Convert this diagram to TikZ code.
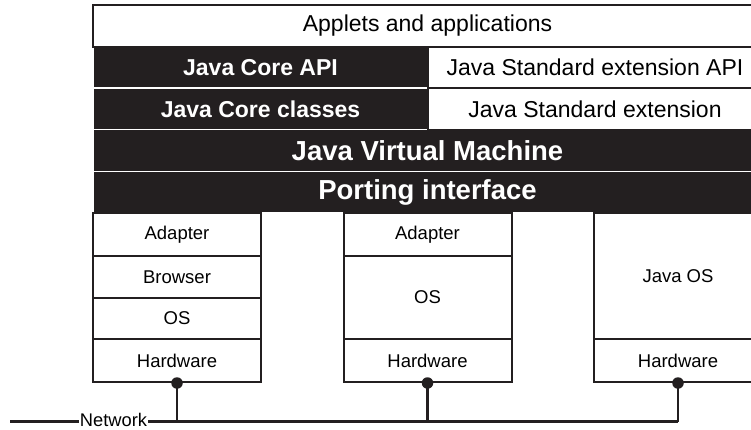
\documentclass[tikz,border=0pt]{standalone}
\usepackage{fontspec}
\setmainfont{Liberation Sans}
\usepackage{tikz}
\usetikzlibrary{positioning}

\definecolor{negro}{RGB}{35,31,32}

\tikzset{
  caja/.style={draw=negro, line width=2pt, fill=white, inner sep=0pt,
    font=\fontsize{23}{26}\selectfont},
  cajanegra/.style={fill=negro, draw=white, line width=1.2pt, text=white,
    inner sep=0pt, font=\fontsize{23}{26}\selectfont\bfseries},
  capa/.style={cajanegra, minimum width=669, minimum height=41.5,
    font=\fontsize{27.5}{30}\selectfont\bfseries},
  pila/.style={caja, minimum width=168, font=\fontsize{18.5}{21}\selectfont},
  punto/.style={circle, fill=negro, inner sep=0pt, minimum size=11.5pt},
  linea/.style={draw=negro, line width=2.2pt}
}

\begin{document}
\begin{tikzpicture}[x=1pt,y=-1pt]
  \useasboundingbox (0,0) rectangle (751,429);
  \clip (0,0) rectangle (751,429);

  % Capas oscuras
  \node[cajanegra, minimum width=335, minimum height=41] (coreapi) at (260.5,67.5) {Java Core API};
  \node[cajanegra, minimum width=335, minimum height=42] (coreclasses) at (260.5,109) {Java Core classes};
  \node[capa] (jvm) at (427.5,150.5) {Java Virtual Machine};
  \node[capa] (porting) at (427.5,192) {Porting interface};

  % Capas claras
  \node[caja, minimum width=669, minimum height=42] (app) at (427.5,26) {Applets and applications};
  \node[caja, minimum width=334, minimum height=41] (stdapi) at (595,67.5) {Java Standard extension API};
  \node[caja, minimum width=334, minimum height=42] (stdext) at (595,109) {Java Standard extension};

  % Columna 1
  \node[pila, minimum height=43] (adap1) at (177,234.5) {Adapter};
  \node[pila, minimum height=42] (browser1) at (177,277) {Browser};
  \node[pila, minimum height=41] (os1) at (177,318.5) {OS};
  \node[pila, minimum height=43] (hw1) at (177,360.5) {Hardware};

  % Columna 2
  \node[pila, minimum height=43] (adap2) at (427.5,234.5) {Adapter};
  \node[pila, minimum height=83] (os2) at (427.5,297.5) {OS};
  \node[pila, minimum height=43] (hw2) at (427.5,360.5) {Hardware};

  % Columna 3
  \node[pila, minimum height=126] (javaos3) at (678,276) {Java OS};
  \node[pila, minimum height=43] (hw3) at (678,360.5) {Hardware};

  % Red
  \coordinate (ini) at (10,421.5);
  \node[inner xsep=1pt, inner ysep=0pt, font=\fontsize{18.3}{20}\selectfont] (net) at (113.5,419.5) {Network};
  \coordinate (b1) at (hw1.south |- ini);
  \coordinate (b2) at (hw2.south |- ini);
  \coordinate (b3) at (hw3.south |- ini);
  \draw[linea] (ini) -- (ini -| net.west);
  \draw[linea] (ini -| net.east) -- (b3);

  % Conexiones
  \node[punto] (p1) at (hw1.south) {};
  \node[punto] (p2) at (hw2.south) {};
  \node[punto] (p3) at (hw3.south) {};
  \draw[linea] (p1.center) -- (b1);
  \draw[linea] (p2.center) -- (b2);
  \draw[linea] (p3.center) -- (b3);
\end{tikzpicture}
\end{document}
